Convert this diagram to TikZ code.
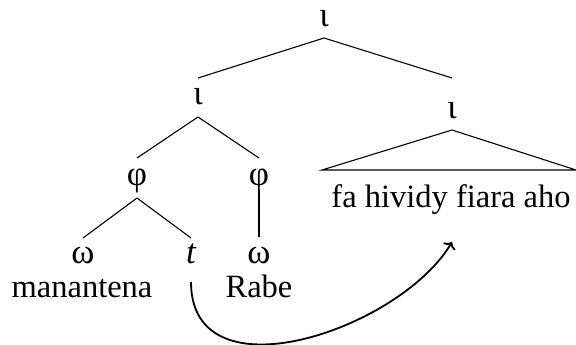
\documentclass[tikz,border=0pt]{standalone}
\usepackage{fontspec}
\setmainfont{Liberation Serif}
\usetikzlibrary{arrows.meta}
\begin{document}
\begin{tikzpicture}[x=1pt,y=-1pt,
  lab/.style={inner sep=0pt, anchor=base, font=\fontsize{32.5}{38}\selectfont},
  sym/.style={lab, font=\fontsize{35}{40}\selectfont},
  branch/.style={line width=1.1pt},
  move/.style={line width=1.8pt, -{To[length=6pt,width=14pt]}}]
\useasboundingbox (0,0) rectangle (576,345);
\node[sym] (top) at (324,27) {ι};
\node[sym] (il) at (198,105) {ι};
\node[sym] (ir) at (452,118) {ι};
\node[sym] (pl) at (137,185) {φ};
\node[sym] (pr) at (259,185) {φ};
\node[sym] (wl) at (83,263) {ω};
\node[sym] (tt) at (191,263) {\itshape t};
\node[sym] (wr) at (259,263) {ω};
\node[lab] (man) at (82,297) {manantena};
\node[lab] (rabe) at (259,297) {Rabe};
\node[lab] (fa) at (451,207) {fa hividy fiara aho};
\draw[branch] ([yshift=-11pt]top.base) -- ([yshift=27pt]il.base);
\draw[branch] ([yshift=-11pt]top.base) -- ([yshift=40pt]ir.base);
\draw[branch] ([yshift=-12pt]il.base) -- ([yshift=27pt]pl.base);
\draw[branch] ([yshift=-12pt]il.base) -- ([yshift=27pt]pr.base);
\draw[branch] ([yshift=-13pt]pl.base) -- ([yshift=25pt]wl.base);
\draw[branch] ([yshift=-13pt]pl.base) -- ([yshift=25pt]tt.base);
\draw[branch] ([yshift=-5pt]pr.base) -- ([yshift=26pt]wr.base);
\draw[branch] ([yshift=-12pt]ir.base) -- ([xshift=-129pt,yshift=37pt]fa.base)
  -- ([xshift=125pt,yshift=37pt]fa.base) -- cycle;
\draw[move] ([yshift=-19pt]tt.base) .. controls +(0,118) and +(-52,88) .. ([xshift=1pt,yshift=-35pt]fa.base);
\end{tikzpicture}
\end{document}
